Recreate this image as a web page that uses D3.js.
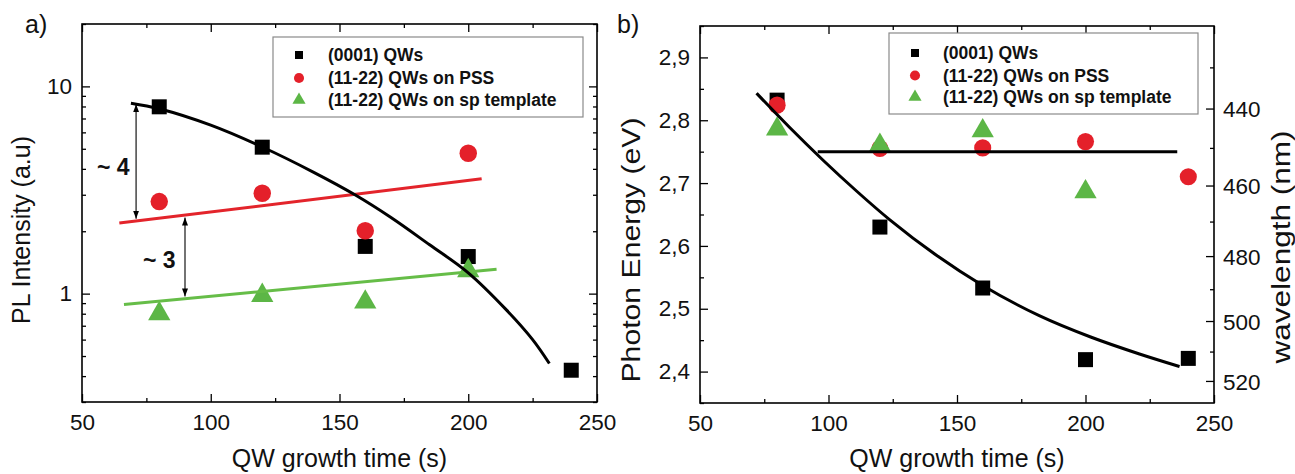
<!DOCTYPE html>
<html><head><meta charset="utf-8">
<script src="https://cdn.jsdelivr.net/npm/d3@7"></script>
<style>
body{margin:0;background:#fff}
svg{display:block}
text{font-family:"Liberation Sans",Arial,Helvetica,sans-serif;fill:#111}
</style></head>
<body><svg id="c" width="1295" height="474"></svg>
<script>
// ---------------- DATA ----------------
const legendLabels = ["(0001) QWs", "(11-22) QWs on PSS", "(11-22) QWs on sp template"];
const xTickValues = [50, 100, 150, 200, 250];
const xMinorValues = [75, 125, 175, 225];

// panel a) PL intensity (log axis)
const timesA = [80, 120, 160, 200, 240];
const plC0001 = [7.97, 5.09, 1.69, 1.51, 0.427];
const timesPssA = [80, 120, 160, 200];
const plPss = [2.78, 3.05, 2.01, 4.76];
const timesSpA = [80, 120, 160, 200];
const plSp = [0.80, 0.98, 0.91, 1.29];
const fitC0001A = [[69, 8.3], [80, 7.8], [100, 6.5], [120, 5.1], [140, 3.85], [156, 3.0], [170, 2.33], [185, 1.72], [200, 1.26], [215, 0.83], [225, 0.6], [231.5, 0.46]];
const fitPssA = [[64.5, 2.19], [205.2, 3.58]];
const fitSpA = [[66.3, 0.887], [211, 1.31]];
const arrowsA = [
  {x: 71, from: 8.2, to: 2.3, label: "~ 4", lx: 97, ly: 175},
  {x: 90, from: 2.33, to: 0.97, label: "~ 3", lx: 143, ly: 268}
];
const yTicksA = [1, 10];
const yMinorA = [0.3, 0.4, 0.5, 0.6, 0.7, 0.8, 0.9, 2, 3, 4, 5, 6, 7, 8, 9, 20];

// panel b) photon energy
const timesB = [80, 120, 160, 200, 240];
const eC0001 = [2.832, 2.630, 2.533, 2.419, 2.421];
const ePss = [2.824, 2.755, 2.756, 2.766, 2.710];
const timesSpB = [80, 120, 160, 200];
const eSp = [2.786, 2.760, 2.783, 2.686];
const fitC0001B = [[72, 2.843], [85, 2.788], [98, 2.736], [111, 2.687], [124, 2.641], [142, 2.585], [160, 2.537], [182, 2.489], [202, 2.455], [221, 2.428], [236.6, 2.408]];
const fitPssB = [[95.8, 2.75], [235.7, 2.75]];
const yTicksB = [2.4, 2.5, 2.6, 2.7, 2.8, 2.9];
const yMinorB = [2.35, 2.45, 2.55, 2.65, 2.75, 2.85, 2.95];
const wlTicks = [440, 460, 480, 500, 520];
const wlMinor = [430, 450, 470, 490, 510];

// ---------------- STYLE ----------------
const BLACK = "#000", RED = "#e4202a", GREEN = "#5cb646";
const RED_LINE = "#e3242b", GREEN_LINE = "#66bd48";

const svg = d3.select("#c");
const defs = svg.append("defs");
defs.append("marker").attr("id", "ah").attr("viewBox", "0 0 8 6")
  .attr("refX", 8).attr("refY", 3).attr("markerWidth", 8).attr("markerHeight", 6)
  .attr("markerUnits", "userSpaceOnUse").attr("orient", "auto-start-reverse")
  .append("path").attr("d", "M0,0L8,3L0,6Z").attr("fill", "#000");

const commaFmt = d3.formatLocale({decimal: ",", thousands: ".", grouping: [3], currency: ["", ""]}).format(".1f");

function frame(g, x, y) {
  const [x0, x1] = x.range(), [yb, yt] = y.range();
  g.append("rect").attr("x", x0).attr("y", yt).attr("width", x1 - x0).attr("height", yb - yt)
    .attr("fill", "none").attr("stroke", "#000").attr("stroke-width", 1.6);
}

function styleAxis(sel) {
  sel.select(".domain").remove();
  sel.selectAll("line").attr("stroke", "#000").attr("stroke-width", 1.3);
  sel.selectAll("text").style("font-size", "22.5px").attr("fill", "#111")
     .style("font-family", '"Liberation Sans",Arial,sans-serif');
}

function xAxes(g, x, y) {
  const [yb, yt] = y.range();
  g.append("g").attr("transform", `translate(0,${yb})`)
    .call(d3.axisBottom(x).tickValues(xTickValues).tickSize(-8).tickPadding(12).tickFormat(d3.format("d"))).call(styleAxis);
  g.append("g").attr("transform", `translate(0,${yb})`)
    .call(d3.axisBottom(x).tickValues(xMinorValues).tickSize(-4).tickFormat("")).call(styleAxis);
  g.append("g").attr("transform", `translate(0,${yt})`)
    .call(d3.axisTop(x).tickValues(xTickValues).tickSize(-8).tickFormat("")).call(styleAxis);
  g.append("g").attr("transform", `translate(0,${yt})`)
    .call(d3.axisTop(x).tickValues(xMinorValues).tickSize(-4).tickFormat("")).call(styleAxis);
}

const sym = (type, size) => d3.symbol().type(type).size(size)();

function markers(g, x, y, xs, ys, type, size, color) {
  g.append("g").selectAll("path").data(xs.map((d, i) => [d, ys[i]])).join("path")
    .attr("transform", d => `translate(${x(d[0])},${y(d[1])})`)
    .attr("d", sym(type, size)).attr("fill", color);
}

function line(g, x, y, pts, color, curve) {
  g.append("path").datum(pts)
    .attr("d", d3.line().x(d => x(d[0])).y(d => y(d[1])).curve(curve || d3.curveLinear))
    .attr("fill", "none").attr("stroke", color).attr("stroke-width", 3).attr("stroke-linecap", "butt");
}

function legend(g, bx, by, bw, bh, sx, tx, rows) {
  g.append("rect").attr("x", bx).attr("y", by).attr("width", bw).attr("height", bh)
    .attr("fill", "#fff").attr("stroke", "#8a8a8a").attr("stroke-width", 1.2);
  const types = [[d3.symbolSquare, 64, BLACK], [d3.symbolCircle, 80, RED], [d3.symbolTriangle, 75, GREEN]];
  legendLabels.forEach((lab, i) => {
    g.append("path").attr("transform", `translate(${sx},${rows[i]})`)
      .attr("d", sym(types[i][0], types[i][1])).attr("fill", types[i][2]);
    g.append("text").attr("x", tx).attr("y", rows[i]).attr("dy", "0.36em")
      .style("font-size", "17.5px").style("font-weight", "bold").text(lab);
  });
}

// ---------------- PANEL A ----------------
{
  const x = d3.scaleLinear([50, 250], [82, 597]);
  const y = d3.scaleLog([0.3, 20], [402, 24]);
  const g = svg.append("g");

  xAxes(g, x, y);
  g.append("g").attr("transform", `translate(82,0)`)
    .call(d3.axisLeft(y).tickValues(yTicksA).tickSize(-8).tickPadding(10).tickFormat(d3.format("d"))).call(styleAxis);
  g.append("g").attr("transform", `translate(82,0)`)
    .call(d3.axisLeft(y).tickValues(yMinorA).tickSize(-4).tickFormat("")).call(styleAxis);
  g.append("g").attr("transform", `translate(597,0)`)
    .call(d3.axisRight(y).tickValues(yTicksA).tickSize(-8).tickFormat("")).call(styleAxis);
  g.append("g").attr("transform", `translate(597,0)`)
    .call(d3.axisRight(y).tickValues(yMinorA).tickSize(-4).tickFormat("")).call(styleAxis);
  frame(g, x, y);

  legend(g, 273, 37, 310, 80, 299, 328, [55, 78, 100]);

  markers(g, x, y, timesA, plC0001, d3.symbolSquare, 225, BLACK);
  markers(g, x, y, timesPssA, plPss, d3.symbolCircle, 240, RED);
  markers(g, x, y, timesSpA, plSp, d3.symbolTriangle, 215, GREEN);

  line(g, x, y, fitPssA, RED_LINE);
  line(g, x, y, fitSpA, GREEN_LINE);
  line(g, x, y, fitC0001A, BLACK, d3.curveCatmullRom);

  arrowsA.forEach(a => {
    g.append("line").attr("x1", x(a.x)).attr("x2", x(a.x)).attr("y1", y(a.from)).attr("y2", y(a.to))
      .attr("stroke", "#000").attr("stroke-width", 1.1)
      .attr("marker-start", "url(#ah)").attr("marker-end", "url(#ah)");
    g.append("text").attr("x", a.lx).attr("y", a.ly).style("font-size", "23px").style("font-weight", "bold").text(a.label);
  });

  g.append("text").attr("x", 339.5).attr("y", 467).attr("text-anchor", "middle").style("font-size", "25px").text("QW growth time (s)");
  g.append("text").attr("transform", "translate(30,230) rotate(-90)").attr("text-anchor", "middle").style("font-size", "25px").text("PL Intensity (a.u)");
  g.append("text").attr("x", 25).attr("y", 33).style("font-size", "25px").text("a)");
}

// ---------------- PANEL B ----------------
{
  const x = d3.scaleLinear([50, 250], [700, 1214]);
  const y = d3.scaleLinear([2.35, 2.95], [403, 26]);
  const g = svg.append("g");

  xAxes(g, x, y);
  g.append("g").attr("transform", `translate(700,0)`)
    .call(d3.axisLeft(y).tickValues(yTicksB).tickSize(-8).tickPadding(10).tickFormat(commaFmt)).call(styleAxis);
  g.append("g").attr("transform", `translate(700,0)`)
    .call(d3.axisLeft(y).tickValues(yMinorB).tickSize(-4).tickFormat("")).call(styleAxis);

  // right wavelength axis: lambda(nm) = 1239.84 / E(eV)
  const yWl = l => y(1239.84 / l);
  const ra = g.append("g");
  ra.selectAll("line.maj").data(wlTicks).join("line")
    .attr("x1", 1214).attr("x2", 1206).attr("y1", d => yWl(d)).attr("y2", d => yWl(d))
    .attr("stroke", "#000").attr("stroke-width", 1.3);
  ra.selectAll("line.min").data(wlMinor).join("line")
    .attr("x1", 1214).attr("x2", 1210).attr("y1", d => yWl(d)).attr("y2", d => yWl(d))
    .attr("stroke", "#000").attr("stroke-width", 1.3);
  ra.selectAll("text").data(wlTicks).join("text")
    .attr("x", 1223).attr("y", d => yWl(d)).attr("dy", "0.36em").style("font-size", "22.5px").text(d => d);
  frame(g, x, y);

  legend(g, 889, 33, 309, 81, 915, 943, [53, 75.5, 97]);

  markers(g, x, y, timesB, eC0001, d3.symbolSquare, 225, BLACK);
  markers(g, x, y, timesB, ePss, d3.symbolCircle, 230, RED);
  markers(g, x, y, timesSpB, eSp, d3.symbolTriangle, 215, GREEN);

  line(g, x, y, fitPssB, BLACK);
  line(g, x, y, fitC0001B, BLACK, d3.curveMonotoneX);

  g.append("text").attr("x", 957).attr("y", 467).attr("text-anchor", "middle").style("font-size", "25px").text("QW growth time (s)");
  g.append("text").attr("transform", "translate(640,250) rotate(-90)").attr("text-anchor", "middle")
    .attr("textLength", 265).attr("lengthAdjust", "spacingAndGlyphs").style("font-size", "25px").text("Photon Energy (eV)");
  g.append("text").attr("transform", "translate(1290,247) rotate(-90)").attr("text-anchor", "middle")
    .attr("textLength", 233).attr("lengthAdjust", "spacingAndGlyphs").style("font-size", "25px").text("wavelength (nm)");
  g.append("text").attr("x", 617).attr("y", 33).style("font-size", "25px").text("b)");
}
</script></body></html>
